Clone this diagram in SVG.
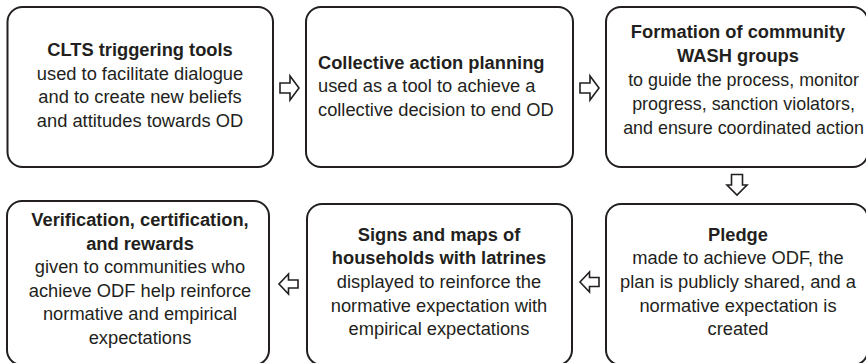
<svg xmlns="http://www.w3.org/2000/svg" width="866" height="363" viewBox="0 0 866 363">
<style>
.box{fill:#fff;stroke:#231f20;stroke-width:2}
.arr{fill:#fff;stroke:#231f20;stroke-width:1.6;stroke-linejoin:miter}
text{font-family:"Liberation Sans",Arial,sans-serif;font-size:18.3px;fill:#231f20}
.b{font-weight:bold}
.c{text-anchor:middle}
.s{font-size:17.9px}
</style>
<rect width="866" height="363" fill="#fff"/>
<g id="connectors">
<polygon class="arr" points="280,83 290,83 290,76 299,88 290,100 290,93 280,93"/>
<polygon class="arr" points="580,83 590,83 590,76 599,88 590,100 590,93 580,93"/>
<polygon class="arr" points="731.5,174.5 742.5,174.5 742.5,185 747,185 737,195 727,185 731.5,185"/>
<polygon class="arr" points="599,277.5 589.5,277.5 589.5,272 580,282 589.5,292 589.5,286.5 599,286.5"/>
<polygon class="arr" points="298,280 288.5,280 288.5,274 279,284 288.5,294 288.5,288 298,288"/>
</g>
<g id="node1">
<rect class="box" x="7.5" y="7" width="265.5" height="160" rx="15"/>
<text class="b c" x="140" y="56">CLTS triggering tools</text>
<text class="c" x="140" y="79.5">used to facilitate dialogue</text>
<text class="c" x="140" y="103">and to create new beliefs</text>
<text class="c" x="140" y="126.5">and attitudes towards OD</text>
</g>
<g id="node2">
<rect class="box" x="306" y="7" width="267" height="160" rx="15"/>
<text class="b" x="318" y="68.5">Collective action planning</text>
<text x="318" y="92">used as a tool to achieve a</text>
<text x="318" y="115.5">collective decision to end OD</text>
</g>
<g id="node3">
<rect class="box" x="606" y="7" width="262" height="160" rx="15"/>
<text class="b c" x="738" y="37.6">Formation of community</text>
<text class="b c" x="738" y="61.6">WASH groups</text>
<text class="c s" x="743.5" y="85.6">to guide the process, monitor</text>
<text class="c s" x="743.5" y="109.6">progress, sanction violators,</text>
<text class="c s" x="743.5" y="133.6">and ensure coordinated action</text>
</g>
<g id="node4">
<rect class="box" x="7" y="201" width="262" height="164" rx="15"/>
<text class="b c" x="140" y="225.6">Verification, certification,</text>
<text class="b c" x="140" y="249.6">and rewards</text>
<text class="c" x="140" y="272.6">given to communities who</text>
<text class="c" x="140" y="296.6">achieve ODF help reinforce</text>
<text class="c" x="140" y="319.6">normative and empirical</text>
<text class="c" x="140" y="343.6">expectations</text>
</g>
<g id="node5">
<rect class="box" x="307" y="204" width="265" height="161" rx="15"/>
<text class="b c" x="439" y="240.6">Signs and maps of</text>
<text class="b c" x="439" y="264">households with latrines</text>
<text class="c" x="439" y="287.6">displayed to reinforce the</text>
<text class="c" x="439" y="311.6">normative expectation with</text>
<text class="c" x="439" y="335">empirical expectations</text>
</g>
<g id="node6">
<rect class="box" x="606" y="204" width="262" height="161" rx="15"/>
<text class="b c" x="738" y="240.6">Pledge</text>
<text class="c" x="738" y="264">made to achieve ODF, the</text>
<text class="c" x="738" y="287.6">plan is publicly shared, and a</text>
<text class="c" x="738" y="311.6">normative expectation is</text>
<text class="c" x="738" y="335">created</text>
</g>
</svg>
